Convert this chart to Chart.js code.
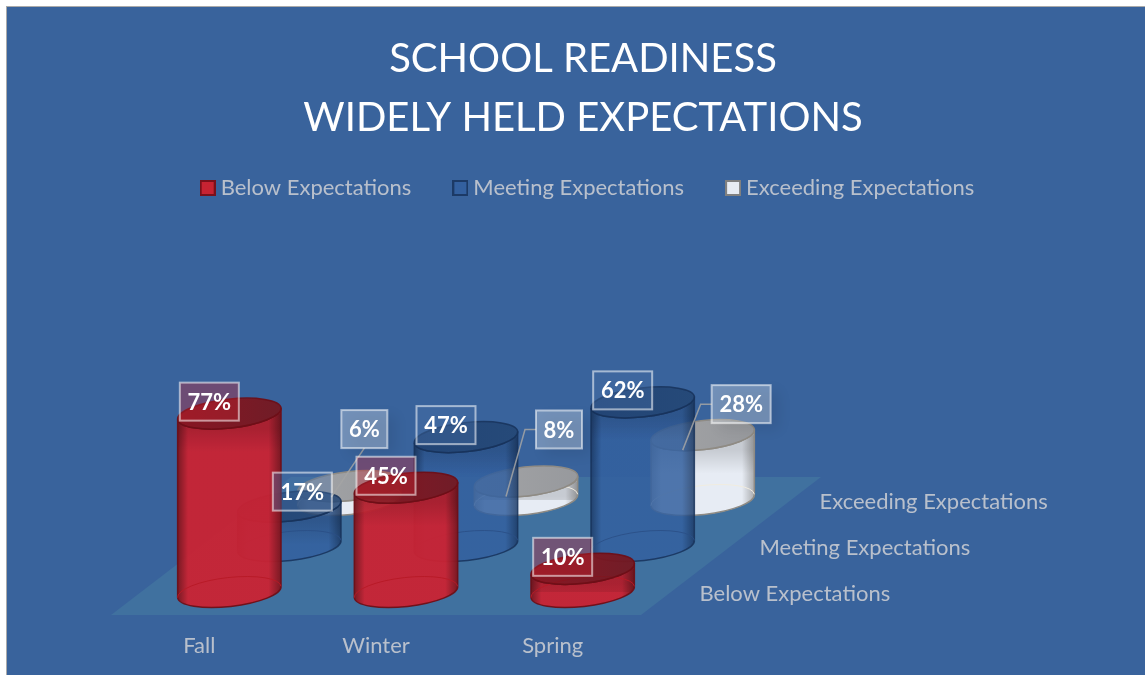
<!DOCTYPE html>
<html>
<head>
<meta charset="utf-8">
<script src="https://cdn.jsdelivr.net/npm/chart.js@4"></script>
<style>
    html, body { margin: 0; padding: 0; background: #fff; overflow: hidden; }
    #wrap { position: absolute; left: 6px; top: 6px; width: 1152px; height: 669px; background: #39639c;
            border-left: 1px solid #aaa; border-top: 1px solid #aaa; }
</style>
</head>
<body>
<div id="wrap"><canvas id="chart"></canvas></div>
<script>
const categories = ['Fall', 'Winter', 'Spring'];
const seriesNames = ['Below Expectations', 'Meeting Expectations', 'Exceeding Expectations'];
const belowValues = [77, 45, 10];
const meetingValues = [17, 47, 62];
const exceedingValues = [6, 8, 28];

const FONT = 'Lato, sans-serif';
const TEXT_COLOR = '#b9c0cc';

// depth of one series row on the floor, in pixels
const ROW_DX = 60;
const ROW_DY = 46;
const RX = 52;
const RY = 14.5;
const TILT = -0.11;

const palettes = [
    { dark: '#7d141c', main: '#cb2232', top1: '#8e111b', top2: '#741820', line: '#6d0f17', rim: '#b81a26', alpha: 0.94, box: 'rgba(199,35,50,0.37)' },
    { dark: '#1c3a66', main: '#33609f', top1: '#1f3f6f', top2: '#234573', line: '#18325a', rim: '#2a4f86', alpha: 0.85, box: 'rgba(70,110,165,0.4)' },
    { dark: '#a9abae', main: '#e7ecf4', top1: '#a3a4a6', top2: '#97999d', line: '#8f8b84', rim: '#f1ece0', alpha: 1, box: 'rgba(231,236,244,0.33)' }
];

// where each value box sits relative to the top of its cylinder
const boxOffsets = [
    [[-20, -12], [-20, -12], [-20, -12]],
    [[13, -15], [-20, -12], [-20, -12]],
    [[15, -57], [33, -52], [38.5, -31]]
];

function swatch(fill, stroke) {
    const c = document.createElement('canvas');
    c.width = 16;
    c.height = 16;
    const g = c.getContext('2d');
    g.fillStyle = stroke;
    g.fillRect(0, 0, 16, 16);
    g.fillStyle = fill;
    g.fillRect(2, 2, 12, 12);
    return c;
}

function drawCylinder(ctx, cx, topY, baseY, pal) {
    const endX = RX * Math.cos(TILT);
    const endY = RX * Math.sin(TILT);
    const left = cx - endX;
    const right = cx + endX;

    ctx.save();
    ctx.globalAlpha = pal.alpha;

    const grad = ctx.createLinearGradient(left, 0, right, 0);
    grad.addColorStop(0, pal.dark);
    grad.addColorStop(0.1, pal.main);
    grad.addColorStop(0.88, pal.main);
    grad.addColorStop(1, pal.dark);

    // front face
    ctx.beginPath();
    ctx.ellipse(cx, baseY, RX, RY, TILT, 0, Math.PI);
    ctx.lineTo(left, topY - endY);
    ctx.ellipse(cx, topY, RX, RY, TILT, Math.PI, 0, true);
    ctx.closePath();
    ctx.fillStyle = grad;
    ctx.fill();

    // soft shade just under the lid
    ctx.save();
    ctx.clip();
    const shade = ctx.createLinearGradient(0, topY + RY, 0, topY + RY + 24);
    shade.addColorStop(0, 'rgba(0,0,0,0.14)');
    shade.addColorStop(1, 'rgba(0,0,0,0)');
    ctx.fillStyle = shade;
    ctx.fillRect(left, topY, endX * 2, baseY - topY);
    ctx.restore();

    ctx.lineWidth = 1.5;
    ctx.strokeStyle = pal.line;
    ctx.stroke();

    // far side of the bottom circle, seen through the body
    ctx.beginPath();
    ctx.ellipse(cx, baseY, RX, RY, TILT, Math.PI, 0);
    ctx.lineWidth = 1;
    ctx.strokeStyle = pal.rim;
    ctx.stroke();

    // lid
    const lid = ctx.createLinearGradient(left, 0, right, 0);
    lid.addColorStop(0, pal.top1);
    lid.addColorStop(1, pal.top2);
    ctx.beginPath();
    ctx.ellipse(cx, topY, RX, RY, TILT, 0, Math.PI * 2);
    ctx.fillStyle = lid;
    ctx.fill();
    ctx.lineWidth = 1.5;
    ctx.strokeStyle = pal.line;
    ctx.stroke();
    ctx.restore();
}

function drawValueBoxes(chart) {
    const ctx = chart.ctx;
    const rows = seriesNames.length;
    ctx.save();
    ctx.font = 'bold 22px ' + FONT;
    ctx.textAlign = 'center';
    ctx.textBaseline = 'middle';
    for (let s = rows - 1; s >= 0; s--) {
        const dx = (s + 0.5) * ROW_DX;
        const dy = (s + 0.5) * ROW_DY;
        chart.getDatasetMeta(s).data.forEach(function(bar, i) {
            const value = chart.data.datasets[s].data[i];
            const tx = bar.x + dx;
            const ty = bar.y - dy;
            const bx = tx + boxOffsets[s][i][0];
            const by = ty + boxOffsets[s][i][1];
            const w = value < 10 ? 46 : 59;
            const h = 38;

            // leader lines on the back row
            if (s === 2) {
                ctx.beginPath();
                if (value < 8) {
                    ctx.moveTo(bx, by + h / 2);
                    ctx.lineTo(tx - 18, ty + 11);
                } else {
                    ctx.moveTo(bx - w / 2, by);
                    ctx.lineTo(bx - w / 2 - 11, by);
                    ctx.lineTo(tx - 20, ty + 15);
                }
                ctx.lineWidth = 1.5;
                ctx.strokeStyle = 'rgba(165,165,165,0.85)';
                ctx.stroke();
            }

            ctx.save();
            if (s === 2) {
                ctx.shadowColor = 'rgba(0,0,0,0.25)';
                ctx.shadowBlur = 14;
                ctx.shadowOffsetX = 8;
                ctx.shadowOffsetY = 6;
            }
            ctx.fillStyle = palettes[s].box;
            ctx.fillRect(bx - w / 2, by - h / 2, w, h);
            ctx.restore();
            ctx.lineWidth = 2;
            ctx.strokeStyle = 'rgba(255,255,255,0.55)';
            ctx.strokeRect(bx - w / 2, by - h / 2, w, h);

            ctx.fillStyle = '#fff';
            ctx.fillText(value + '%', bx, by + 1);
        });
    }
    ctx.restore();
}

const cylinderPlugin = {
    id: 'cylinders',
    afterLayout(chart) {
        // nudge the legend, title and plot keep their place
        const legend = chart.legend;
        legend.left += 7;
        legend.right += 7;
        legend.top -= 18;
        legend.bottom -= 18;
    },
    beforeDatasetsDraw(chart) {
        const ctx = chart.ctx;
        const xs = chart.scales.x;
        const bottom = chart.scales.y.bottom;
        const rows = seriesNames.length;

        // floor
        ctx.save();
        ctx.beginPath();
        ctx.moveTo(xs.left, bottom);
        ctx.lineTo(xs.right, bottom);
        ctx.lineTo(xs.right + rows * ROW_DX, bottom - rows * ROW_DY);
        ctx.lineTo(xs.left + rows * ROW_DX, bottom - rows * ROW_DY);
        ctx.closePath();
        ctx.fillStyle = '#40719f';
        ctx.fill();

        // series names along the depth axis
        ctx.font = '22px ' + FONT;
        ctx.fillStyle = TEXT_COLOR;
        ctx.textBaseline = 'middle';
        seriesNames.forEach(function(name, r) {
            ctx.fillText(name, xs.right + (r + 0.5) * ROW_DX + 28.5, bottom - (r + 0.5) * ROW_DY + 2);
        });
        ctx.restore();

        // back row first so the front rows cover it
        for (let s = rows - 1; s >= 0; s--) {
            const dx = (s + 0.5) * ROW_DX;
            const dy = (s + 0.5) * ROW_DY;
            chart.getDatasetMeta(s).data.forEach(function(bar) {
                drawCylinder(ctx, bar.x + dx, bar.y - dy, bar.base - dy, palettes[s]);
            });
        }
        drawValueBoxes(chart);
        // the plain bars are not wanted, only the cylinders
        return false;
    }
};

const hiddenAxis = { display: true, ticks: { display: false }, grid: { display: false }, border: { display: false } };

new Chart(document.getElementById('chart'), {
    type: 'bar',
    plugins: [cylinderPlugin],
    data: {
        labels: categories,
        datasets: [
            { label: seriesNames[0], data: belowValues, pointStyle: swatch('#c72332', '#7a101a') },
            { label: seriesNames[1], data: meetingValues, pointStyle: swatch('#33609f', '#1c3a66') },
            { label: seriesNames[2], data: exceedingValues, pointStyle: swatch('#e7ecf4', '#808080') }
        ]
    },
    options: {
        responsive: true,
        maintainAspectRatio: false,
        animation: false,
        datasets: { bar: { grouped: false, categoryPercentage: 1, barPercentage: 0.59 } },
        plugins: {
            tooltip: { enabled: false },
            title: {
                display: true,
                text: ['SCHOOL READINESS', 'WIDELY HELD EXPECTATIONS'],
                color: '#ffffff',
                font: { family: FONT, size: 40, weight: 'normal', lineHeight: 1.475 },
                padding: { top: 23, bottom: 0 }
            },
            legend: {
                position: 'top',
                labels: {
                    usePointStyle: true,
                    pointStyleWidth: 4,
                    padding: 47,
                    color: TEXT_COLOR,
                    font: { family: FONT, size: 22 }
                }
            }
        },
        scales: {
            x: {
                grid: { display: false },
                border: { display: false },
                ticks: { color: TEXT_COLOR, font: { family: FONT, size: 22 }, padding: 10 },
                afterFit: function(s) { s.height = 61; }
            },
            y: Object.assign({}, hiddenAxis, {
                min: 0,
                max: 167.5,
                afterFit: function(s) { s.width = 104; }
            }),
            yRight: Object.assign({}, hiddenAxis, {
                position: 'right',
                afterFit: function(s) { s.width = 518; }
            })
        }
    }
});
</script>
</body>
</html>
